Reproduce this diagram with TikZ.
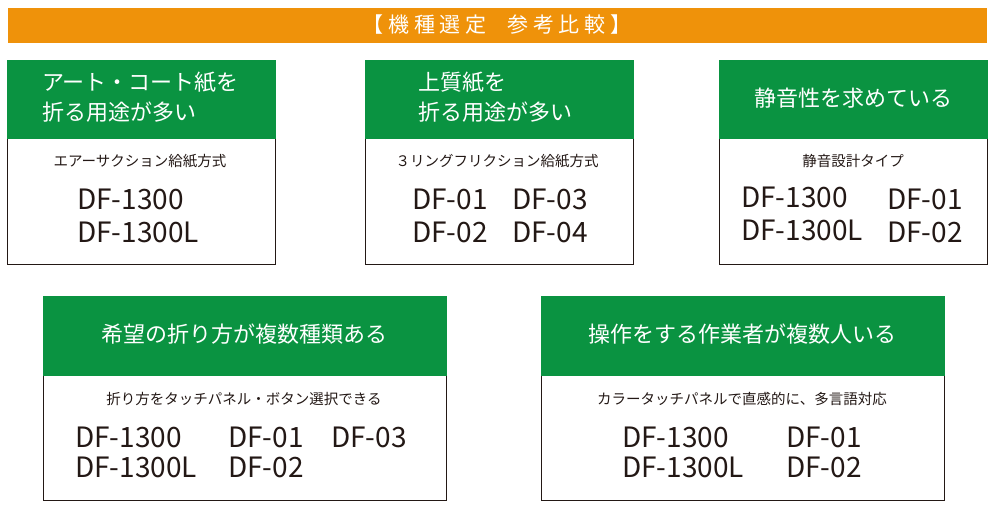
\documentclass[tikz,border=0pt]{standalone}
\usepackage{fontspec}
\setmainfont{Noto Sans CJK JP}
\definecolor{og}{HTML}{EF920A}
\definecolor{gr}{HTML}{0A9341}
\definecolor{tx}{HTML}{231815}
\tikzset{
 hdr/.style={fill=gr,draw=gr},
 body/.style={draw=tx,line width=0.8pt,fill=white},
 ht/.style={text=white,font=\fontsize{22}{30}\selectfont,inner sep=0},
 st/.style={text=tx,font=\fontsize{14.5}{16}\selectfont,inner sep=0},
 mt/.style={text=tx,font=\fontsize{28}{30}\selectfont,anchor=west,inner sep=0},
}
\begin{document}
\begin{tikzpicture}[x=1pt,y=-1pt]
\useasboundingbox (0,0) rectangle (993,515);
\fill[og] (8,8) rectangle (987,43);
\node[text=white,font=\fontsize{21}{22}\selectfont] (title) at (497,25) {【\ 機\ 種\ 選\ 定\quad 参\ 考\ 比\ 較\ 】};
% box1
\draw[body] (7,60) rectangle (275,264);
\draw[hdr] (7,60) rectangle (275,138);
\node[ht,anchor=west,align=left] (h1) at (42,97) {アート・コート紙を\\折る用途が多い};
\node[st] (s1) at (140,161) {エアーサクション給紙方式};
\node[mt] (m11) at (77,199) {DF-1300};
\node[mt] (m12) at (77,232) {DF-1300L};
% box2
\draw[body] (365,60) rectangle (633,264);
\draw[hdr] (365,60) rectangle (633,138);
\node[ht,anchor=west,align=left] (h2) at (418,97) {上質紙を\\折る用途が多い};
\node[st] (s2) at (497,161) {３リングフリクション給紙方式};
\node[mt] (m21) at (412,199) {DF-01};
\node[mt] (m22) at (412,232) {DF-02};
\node[mt] (m23) at (512,199) {DF-03};
\node[mt] (m24) at (512,232) {DF-04};
% box3
\draw[body] (719,60) rectangle (987,264);
\draw[hdr] (719,60) rectangle (987,138);
\node[ht] (h3) at (853,98) {静音性を求めている};
\node[st] (s3) at (853,161) {静音設計タイプ};
\node[mt] (m31) at (741,197) {DF-1300};
\node[mt] (m32) at (741,230) {DF-1300L};
\node[mt] (m33) at (887,199) {DF-01};
\node[mt] (m34) at (887,232) {DF-02};
% box4
\draw[body] (43,296) rectangle (446,500);
\draw[hdr] (43,296) rectangle (446,375);
\node[ht] (h4) at (244,334) {希望の折り方が複数種類ある};
\node[st] (s4) at (244,399) {折り方をタッチパネル・ボタン選択できる};
\node[mt] (m41) at (75,437) {DF-1300};
\node[mt] (m42) at (75,467) {DF-1300L};
\node[mt] (m43) at (228,437) {DF-01};
\node[mt] (m44) at (228,467) {DF-02};
\node[mt] (m45) at (331,437) {DF-03};
% box5
\draw[body] (541,296) rectangle (944,500);
\draw[hdr] (541,296) rectangle (944,375);
\node[ht] (h5) at (742,334) {操作をする作業者が複数人いる};
\node[st] (s5) at (742,399) {カラータッチパネルで直感的に、多言語対応};
\node[mt] (m51) at (622,437) {DF-1300};
\node[mt] (m52) at (622,467) {DF-1300L};
\node[mt] (m53) at (786,437) {DF-01};
\node[mt] (m54) at (786,467) {DF-02};
\end{tikzpicture}
\end{document}
